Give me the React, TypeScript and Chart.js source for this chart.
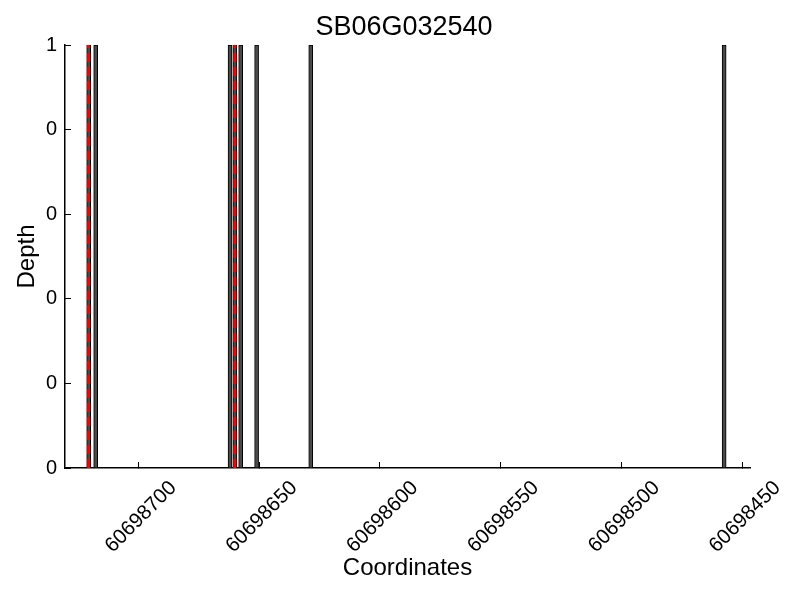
import React, { useEffect, useRef } from "react";
import { Chart, registerables } from "chart.js";

Chart.register(...registerables);

const chartTitle = "SB06G032540";
const xAxisLabel = "Coordinates";
const yAxisLabel = "Depth";

// read positions (coordinates) and their depth
const readPositions = [60698720.5, 60698717.6, 60698662, 60698660, 60698657.6, 60698651, 60698628.6, 60698457.5];
const readDepths = [1, 1, 1, 1, 1, 1, 1, 1];

// red dashed marker positions
const markerPositions = [60698720.5, 60698660];

const xTicks = [60698700, 60698650, 60698600, 60698550, 60698500, 60698450];
const yTicks = [0, 0.2, 0.4, 0.6, 0.8, 1];
const xMin = 60698446.8;
const xMax = 60698730.3;
const yMin = 0;
const yMax = 1;

const FONT = "'Liberation Sans', Arial, Helvetica, sans-serif";

export default function App() {
  const ref = useRef<HTMLCanvasElement | null>(null);

  useEffect(() => {
    if (!ref.current) return;
    const barData = readPositions.map((x, i) => ({ x, y: readDepths[i] }));
    const markerSets = markerPositions.map((x) => ({
      type: "line" as const,
      data: [
        { x, y: yMin },
        { x, y: yMax },
      ],
      borderColor: "#ff0000",
      borderWidth: 3,
      borderDash: [9, 5],
      pointRadius: 0,
      fill: false,
      clip: false,
      order: 0,
    }));

    const chart = new Chart(ref.current, {
      type: "bar",
      data: {
        datasets: [
          ...markerSets,
          {
            type: "bar" as const,
            data: barData,
            backgroundColor: "#4a4a4a",
            borderColor: "#000000",
            borderWidth: 1,
            barThickness: 4,
            order: 5,
          } as any,
        ],
      },
      options: {
        responsive: false,
        animation: false,
        devicePixelRatio: 1,
        layout: { padding: { left: 8, right: 0, top: 0, bottom: 0 } },
        plugins: {
          legend: { display: false },
          tooltip: { enabled: false },
          title: {
            display: true,
            text: chartTitle,
            color: "#000",
            font: { family: FONT, size: 27, weight: "normal" },
            padding: { top: 11, bottom: 1.6 },
          },
        },
        scales: {
          x: {
            type: "linear",
            reverse: true,
            offset: false,
            min: xMin,
            max: xMax,
            afterBuildTicks: (s: any) => {
              s.ticks = xTicks.map((v) => ({ value: v }));
            },
            afterFit: (s: any) => {
              s.height = 132;
              s.paddingLeft = 0;
              s.paddingRight = 50;
            },
            grid: {
              offset: false,
              drawOnChartArea: false,
              tickLength: -6,
              color: "#000",
              lineWidth: 1,
            },
            border: { color: "#000", width: 1.5 },
            ticks: {
              minRotation: 45,
              maxRotation: 45,
              autoSkip: false,
              labelOffset: 35,
              padding: 14,
              color: "#000",
              font: { family: FONT, size: 20.5 },
              callback: (v: any) => String(v),
            },
            title: {
              display: true,
              text: xAxisLabel,
              color: "#000",
              font: { family: FONT, size: 24 },
              padding: { top: 0, bottom: 17 },
            },
          },
          y: {
            min: yMin,
            max: yMax,
            afterBuildTicks: (s: any) => {
              s.ticks = yTicks.map((v) => ({ value: v }));
            },
            afterFit: (s: any) => {
              s.width = 57;
              s.paddingTop = 0;
              s.paddingBottom = 0;
            },
            grid: {
              drawOnChartArea: false,
              tickLength: -6,
              color: "#000",
              lineWidth: 1,
            },
            border: { color: "#000", width: 1.5 },
            ticks: {
              padding: 14,
              color: "#000",
              font: { family: FONT, size: 20 },
              callback: (v: any) => String(Math.trunc(Number(v) + 1e-9)),
            },
            title: {
              display: true,
              text: yAxisLabel,
              color: "#000",
              font: { family: FONT, size: 24 },
              padding: { top: 4.6, bottom: 0 },
            },
          },
        },
      } as any,
    });
    return () => chart.destroy();
  }, []);

  return (
    <div style={{ position: "absolute", left: 0, top: 0, width: 800, height: 600, background: "#fff" }}>
      <canvas ref={ref} width={800} height={600} />
    </div>
  );
}
